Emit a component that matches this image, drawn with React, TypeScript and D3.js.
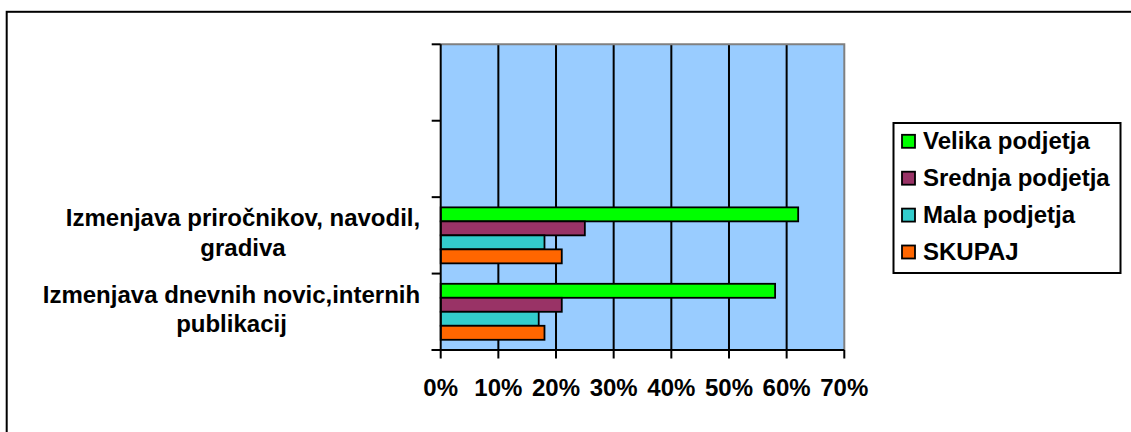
import React, { useEffect, useRef } from 'react';
import * as d3 from 'd3';

// Categories listed bottom-to-top (Excel bar chart order); top two slots are empty.
const categories = ['cat0', 'cat1', 'cat2', 'cat3'];
const categoryLabels: string[][] = [
  ['Izmenjava dnevnih novic,internih', 'publikacij'],
  ['Izmenjava priročnikov, navodil,', 'gradiva'],
  [],
  [],
];
const seriesNames = ['Velika podjetja', 'Srednja podjetja', 'Mala podjetja', 'SKUPAJ'];
const velika: (number | null)[] = [58, 62, null, null];
const srednja: (number | null)[] = [21, 25, null, null];
const mala: (number | null)[] = [17, 18, null, null];
const skupaj: (number | null)[] = [18, 21, null, null];
const xTicks = [0, 10, 20, 30, 40, 50, 60, 70];
const seriesColors = ['#00FF00', '#993366', '#33CCCC', '#FF6600'];

const W = 1131;
const H = 432;
const FONT = '"Liberation Sans", Arial, sans-serif';
const FS = 24;

export default function App() {
  const ref = useRef<SVGSVGElement | null>(null);

  useEffect(() => {
    const svg = d3.select(ref.current);
    svg.selectAll('*').remove();

    const seriesValues = [velika, srednja, mala, skupaj];

    const plot = { left: 440.7, right: 844.3, top: 44.3, bottom: 350 };

    const x = d3.scaleLinear().domain([0, 70]).range([plot.left, plot.right]);
    const y = d3
      .scaleBand<string>()
      .domain(categories.slice().reverse())
      .range([plot.top, plot.bottom])
      .paddingInner(0)
      .paddingOuter(0);
    const ys = d3
      .scaleBand<string>()
      .domain(seriesNames)
      .range([0, y.bandwidth()])
      .paddingInner(0)
      .paddingOuter(0.73);

    // outer frame (extends past the picture)
    svg
      .append('rect')
      .attr('x', 6.7)
      .attr('y', 11.8)
      .attr('width', 1300)
      .attr('height', 600)
      .attr('fill', 'none')
      .attr('stroke', '#000')
      .attr('stroke-width', 2);

    // plot background
    svg
      .append('rect')
      .attr('x', plot.left)
      .attr('y', plot.top)
      .attr('width', plot.right - plot.left)
      .attr('height', plot.bottom - plot.top)
      .attr('fill', '#99CCFF');

    // grid lines
    svg
      .append('g')
      .selectAll('line')
      .data(xTicks.filter((t) => t > 0 && t < 70))
      .join('line')
      .attr('x1', (d) => x(d))
      .attr('x2', (d) => x(d))
      .attr('y1', plot.top)
      .attr('y2', plot.bottom)
      .attr('stroke', '#000')
      .attr('stroke-width', 2);

    // plot border top/right (gray)
    svg
      .append('path')
      .attr('d', `M${plot.left},${plot.top}H${plot.right}V${plot.bottom}`)
      .attr('fill', 'none')
      .attr('stroke', '#808080')
      .attr('stroke-width', 2);

    // bars
    const barG = svg.append('g');
    categories.forEach((c, ci) => {
      seriesNames.forEach((s, si) => {
        const v = seriesValues[si][ci];
        if (v == null) return;
        barG
          .append('rect')
          .attr('x', x(0))
          .attr('y', (y(c) as number) + (ys(s) as number))
          .attr('width', x(v) - x(0))
          .attr('height', ys.bandwidth())
          .attr('fill', seriesColors[si])
          .attr('stroke', '#000')
          .attr('stroke-width', 1.8);
      });
    });

    // y axis line + ticks
    svg
      .append('line')
      .attr('x1', plot.left)
      .attr('x2', plot.left)
      .attr('y1', plot.top)
      .attr('y2', plot.bottom)
      .attr('stroke', '#000')
      .attr('stroke-width', 2);
    const yBounds = categories.map((c) => y(c) as number).concat([plot.bottom]);
    svg
      .append('g')
      .selectAll('line')
      .data(yBounds)
      .join('line')
      .attr('x1', plot.left - 9)
      .attr('x2', plot.left)
      .attr('y1', (d) => d)
      .attr('y2', (d) => d)
      .attr('stroke', '#000')
      .attr('stroke-width', 2);

    // x axis line + ticks
    svg
      .append('line')
      .attr('x1', plot.left - 9)
      .attr('x2', plot.right)
      .attr('y1', plot.bottom)
      .attr('y2', plot.bottom)
      .attr('stroke', '#000')
      .attr('stroke-width', 2);
    svg
      .append('g')
      .selectAll('line')
      .data(xTicks)
      .join('line')
      .attr('x1', (d) => x(d))
      .attr('x2', (d) => x(d))
      .attr('y1', plot.bottom)
      .attr('y2', plot.bottom + 8.5)
      .attr('stroke', '#000')
      .attr('stroke-width', 2);

    // x tick labels
    svg
      .append('g')
      .selectAll('text')
      .data(xTicks)
      .join('text')
      .attr('x', (d) => x(d))
      .attr('y', 396)
      .attr('text-anchor', 'middle')
      .attr('font-family', FONT)
      .attr('font-weight', 'bold')
      .attr('font-size', FS)
      .attr('fill', '#000')
      .text((d) => `${d}%`);

    // category labels: block right-aligned to the axis, lines centered in the block
    const labelRight = plot.left - 20.5;
    categories.forEach((c, ci) => {
      const lines = categoryLabels[ci];
      if (!lines.length) return;
      const g = svg.append('g');
      const texts = lines.map((ln, li) =>
        g
          .append('text')
          .attr('y', (y(c) as number) + y.bandwidth() / 2 - 9 + li * 29.5)
          .attr('font-family', FONT)
          .attr('font-weight', 'bold')
          .attr('font-size', FS)
          .attr('fill', '#000')
          .attr('text-anchor', 'middle')
          .text(ln)
      );
      const widths = texts.map((t) => (t.node() as SVGTextElement).getComputedTextLength());
      const bw = Math.max(...widths);
      const cx = labelRight - bw / 2;
      texts.forEach((t) => t.attr('x', cx));
    });

    // legend
    const lg = svg.append('g');
    lg.append('rect')
      .attr('x', 893.5)
      .attr('y', 123)
      .attr('width', 227)
      .attr('height', 150)
      .attr('fill', '#fff')
      .attr('stroke', '#000')
      .attr('stroke-width', 2);
    const ly = d3.scalePoint<string>().domain(seriesNames).range([141.3, 252]);
    seriesNames.forEach((s, si) => {
      const cy = ly(s) as number;
      lg.append('rect')
        .attr('x', 902)
        .attr('y', cy - 6.5)
        .attr('width', 13)
        .attr('height', 13)
        .attr('fill', seriesColors[si])
        .attr('stroke', '#000')
        .attr('stroke-width', 1.8);
      lg.append('text')
        .attr('x', 923)
        .attr('y', cy + 8)
        .attr('font-family', FONT)
        .attr('font-weight', 'bold')
        .attr('font-size', FS)
        .attr('fill', '#000')
        .text(s);
    });
  }, []);

  return (
    <svg
      ref={ref}
      width={W}
      height={H}
      style={{ position: 'absolute', left: 0, top: 0, background: '#fff' }}
    />
  );
}
